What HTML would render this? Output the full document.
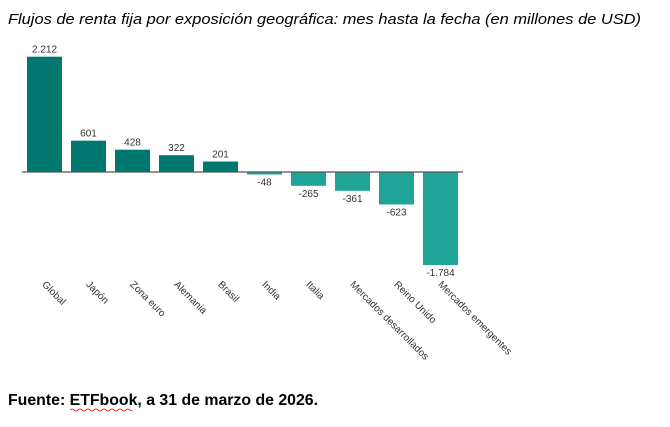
<!DOCTYPE html>
<html><head><meta charset="utf-8"><style>
body{margin:0;background:#fff;width:670px;height:422px;overflow:hidden;font-family:"Liberation Sans",sans-serif}
</style></head><body>
<svg width="670" height="422">
<text x="8" y="24" font-size="14.5" font-style="italic" fill="#000" textLength="633" lengthAdjust="spacingAndGlyphs">Flujos de renta fija por exposición geográfica: mes hasta la fecha (en millones de USD)</text>
<g id="bars"></g>
<line x1="22" x2="463" y1="172" y2="172" stroke="#555" stroke-width="1.2"/>
<text x="8" y="405" font-size="15.5" font-weight="bold" fill="#000" textLength="310" lengthAdjust="spacingAndGlyphs">Fuente: ETFbook, a 31 de marzo de 2026.</text>
<path d="M70 410 q2 -2 4 0 t4 0 t4 0 t4 0 t4 0 t4 0 t4 0 t4 0 t4 0 t4 0 t4 0 t4 0 t4 0 t4 0 t4 0 t2 0" stroke="#e00" fill="none" stroke-width="0.8"/>
</svg>
<script>
const categories=["Global","Japón","Zona euro","Alemania","Brasil","India","Italia","Mercados desarrollados","Reino Unido","Mercados emergentes"];
const values=[2212,601,428,322,201,-48,-265,-361,-623,-1784];
const valueLabels=["2.212","601","428","322","201","-48","-265","-361","-623","-1.784"];
const NS="http://www.w3.org/2000/svg";
const g=document.getElementById("bars");
const y0=172, k=115.3/2212;
const yScale=v=>y0-v*k;
const xCenter=i=>44.5+i*44;
const bw=35;
categories.forEach((c,i)=>{
  const v=values[i];
  const r=document.createElementNS(NS,"rect");
  
  
  r.setAttribute("x",xCenter(i)-bw/2);
  r.setAttribute("y",Math.min(yScale(v),y0));
  r.setAttribute("width",bw);
  r.setAttribute("height",Math.abs(yScale(v)-y0));
  r.setAttribute("fill",v>=0?"#007870":"#1fa497");
  g.appendChild(r);
  const t=document.createElementNS(NS,"text");
  
  
  t.setAttribute("x",xCenter(i));
  t.setAttribute("y",v>=0?yScale(v)-4:yScale(v)+11);
  t.setAttribute("text-anchor","middle");
  t.setAttribute("font-size","10");
  t.setAttribute("fill","#333");
  t.textContent=valueLabels[i];
  g.appendChild(t);
  const l=document.createElementNS(NS,"text");
  
  
  const lx=xCenter(i)-3, ly=285;
  l.setAttribute("x",lx);l.setAttribute("y",ly);
  l.setAttribute("transform","rotate(45 "+lx+" "+ly+")");
  l.setAttribute("font-size","10");
  l.setAttribute("fill","#333");
  l.textContent=c;
  g.appendChild(l);
});
</script>
</body></html>
